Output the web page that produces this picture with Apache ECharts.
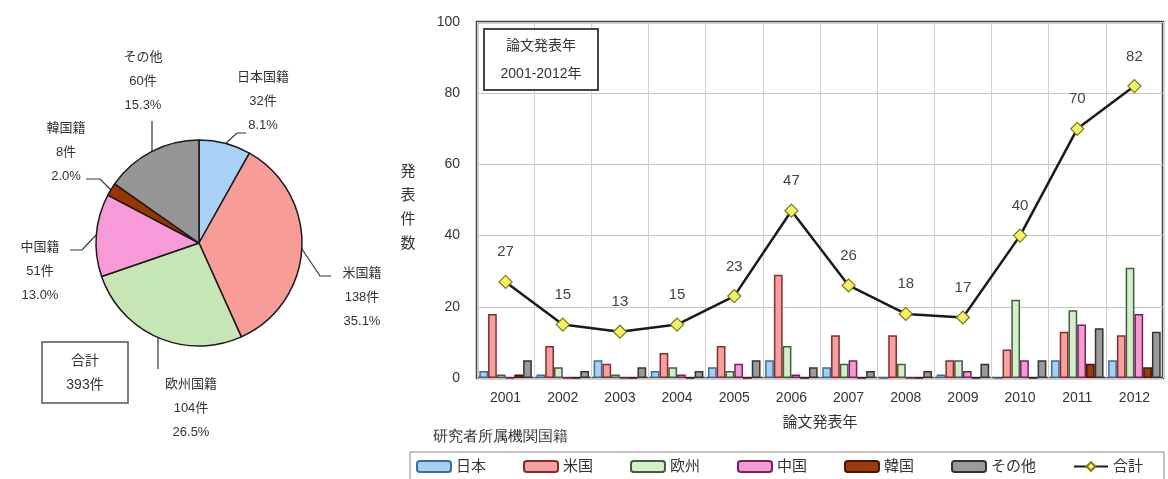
<!DOCTYPE html>
<html>
<head>
<meta charset="utf-8">
<script src="https://cdn.jsdelivr.net/npm/echarts@6/dist/echarts.min.js"></script>
<style>
  html, body { margin: 0; padding: 0; background: #ffffff; }
  #chart { width: 1168px; height: 479px; }
</style>
</head>
<body>
<div id="chart"></div>
<script>
// Publication years (x axis categories)
const years = ['2001', '2002', '2003', '2004', '2005', '2006', '2007', '2008', '2009', '2010', '2011', '2012'];

// Papers per year by researcher nationality
const japan  = [2, 1, 5, 2, 3, 5, 3, 0, 1, 0, 5, 5];
const usa    = [18, 9, 4, 7, 9, 29, 12, 12, 5, 8, 13, 12];
const europe = [1, 3, 1, 3, 2, 9, 4, 4, 5, 22, 19, 31];
const china  = [0, 0, 0, 1, 4, 1, 5, 0, 2, 5, 15, 18];
const korea  = [1, 0, 0, 0, 0, 0, 0, 0, 0, 0, 4, 3];
const other  = [5, 2, 3, 2, 5, 3, 2, 2, 4, 5, 14, 13];
const totals = [27, 15, 13, 15, 23, 47, 26, 18, 17, 40, 70, 82];

// Nationality breakdown for the whole period
const pieNames  = ['日本国籍', '米国籍', '欧州国籍', '中国籍', '韓国籍', 'その他'];
const pieValues = [32, 138, 104, 51, 8, 60];

// Y axis ticks
const yTicks = { min: 0, max: 100, interval: 20 };

const FONT = "'Liberation Sans', 'Noto Sans CJK JP', sans-serif";
const TXT = '#333333';

const pieTotal = pieValues.reduce((a, b) => a + b, 0);

// Where each pie label and its leader line sit
const pieLabelSpots = [
  { x: 263, y: 101, line: [[225, 144], [237, 133], [246, 133]] },
  { x: 362, y: 297, line: [[302, 249], [320, 276], [331, 276]] },
  { x: 191, y: 408, line: [[158, 338], [158, 355], [158, 369]] },
  { x: 40,  y: 271, line: [[96, 235], [82, 250], [70, 250]] },
  { x: 66,  y: 152, line: [[111, 190], [100, 179], [86, 179]] },
  { x: 143, y: 81,  line: [[152, 151], [152, 135], [152, 121]] }
];

const barStyles = [
  { name: '日本', data: japan,  fill: '#a6cff0', edge: '#3b6e99' },
  { name: '米国', data: usa,    fill: '#f4a2a0', edge: '#8a2a2a' },
  { name: '欧州', data: europe, fill: '#d4eecb', edge: '#3f5f3f' },
  { name: '中国', data: china,  fill: '#f39bd3', edge: '#7a1f5f' },
  { name: '韓国', data: korea,  fill: '#9a3a10', edge: '#4a1500' },
  { name: 'その他', data: other, fill: '#9a9a9a', edge: '#333333' }
];

const pieColors = ['#a9d0f5', '#f79c97', '#c6e6b6', '#f79ad8', '#993300', '#969696'];

const chart = echarts.init(document.getElementById('chart'), null, { renderer: 'canvas' });

const barSeries = barStyles.map(s => ({
  name: s.name,
  type: 'bar',
  data: s.data,
  barGap: '0%',
  barCategoryGap: '8%',
  itemStyle: { color: s.fill, borderColor: s.edge, borderWidth: 1.5 },
  z: 2
}));

const option = {
  backgroundColor: '#ffffff',
  animation: false,
  textStyle: { fontFamily: FONT },
  grid: {
    left: 477, top: 22, right: 5, bottom: 101,
    show: true, borderColor: '#444444', borderWidth: 2.5, backgroundColor: '#ffffff'
  },
  xAxis: {
    type: 'category',
    data: years,
    boundaryGap: true,
    name: '論文発表年',
    nameLocation: 'middle',
    nameGap: 37,
    nameTextStyle: { fontSize: 15, color: TXT, fontFamily: FONT },
    axisLine: { show: false },
    axisTick: { show: false },
    axisLabel: { fontSize: 14, color: TXT, margin: 13, fontFamily: FONT },
    splitLine: { show: true, lineStyle: { color: '#cfcfcf', width: 1 } }
  },
  yAxis: {
    type: 'value',
    min: yTicks.min, max: yTicks.max, interval: yTicks.interval,
    axisLine: { show: false },
    axisTick: { show: false },
    axisLabel: { fontSize: 14, color: TXT, margin: 17, fontFamily: FONT },
    splitLine: { show: true, lineStyle: { color: '#c4c4c4', width: 1 } }
  },
  legend: {
    left: 416, top: 459, width: 760, padding: 0,
    itemWidth: 34, itemHeight: 11, itemGap: 37,
    textStyle: { fontSize: 15, color: TXT, fontFamily: FONT },
    data: ['日本', '米国', '欧州', '中国', '韓国', 'その他', '合計']
  },
  graphic: [
    // vertical y axis title
    { type: 'text', x: 408, y: 208,
      style: { text: '発\n表\n件\n数', font: '15px ' + FONT, fill: TXT,
               align: 'center', verticalAlign: 'middle', lineHeight: 24 } },
    // frame round the legend
    { type: 'rect', shape: { x: 410, y: 452, width: 754, height: 40 },
      style: { fill: 'none', stroke: '#888888', lineWidth: 1 }, z: 0 },
    { type: 'text', left: 433, top: 429,
      style: { text: '研究者所属機関国籍', fontSize: 15, fill: TXT, font: '15px ' + FONT } },
    // period caption inside the plot
    { type: 'rect', shape: { x: 484, y: 29, width: 114, height: 61 },
      style: { fill: '#ffffff', stroke: '#444444', lineWidth: 2 }, z: 10 },
    { type: 'text', x: 541, y: 60, z: 11,
      style: { text: '論文発表年\n2001-2012年', font: '14px ' + FONT, fill: TXT,
               align: 'center', verticalAlign: 'middle', lineHeight: 28 } },
    // grand total box beside the pie
    { type: 'rect', shape: { x: 42, y: 342, width: 86, height: 61 },
      style: { fill: '#ffffff', stroke: '#555555', lineWidth: 1.5 } },
    { type: 'text', x: 85, y: 373,
      style: { text: '合計\n' + pieTotal + '件', font: '14px ' + FONT, fill: TXT,
               align: 'center', verticalAlign: 'middle', lineHeight: 24 } }
  ],
  series: [
    ...barSeries,
    {
      name: '合計',
      type: 'line',
      data: totals,
      z: 5,
      symbol: 'diamond',
      symbolSize: 13,
      lineStyle: { color: '#1a1a1a', width: 2.5 },
      itemStyle: { color: '#f2f26a', borderColor: '#7a7a10', borderWidth: 1.2 },
      label: { show: true, position: 'top', distance: 15, fontSize: 15, color: '#444444', fontFamily: FONT }
    },
    {
      name: '国籍別',
      type: 'pie',
      center: [199, 243],
      radius: 103,
      startAngle: 90,
      clockwise: true,
      data: pieNames.map((n, i) => ({ name: n, value: pieValues[i], itemStyle: { color: pieColors[i] } })),
      itemStyle: { borderColor: '#1a1a1a', borderWidth: 1.5 },
      label: {
        show: true,
        formatter: p => p.name + '\n' + p.value + '件\n' + (p.value / pieTotal * 100).toFixed(1) + '%',
        fontSize: 13, lineHeight: 24, color: TXT, fontFamily: FONT, align: 'center'
      },
      labelLine: { show: true, lineStyle: { color: '#333333', width: 1.2 } },
      labelLayout: params => {
        const s = pieLabelSpots[params.dataIndex];
        return { x: s.x, y: s.y, align: 'center', verticalAlign: 'middle', labelLinePoints: s.line };
      },
      emphasis: { disabled: true }
    }
  ]
};

chart.setOption(option);
</script>
</body>
</html>
